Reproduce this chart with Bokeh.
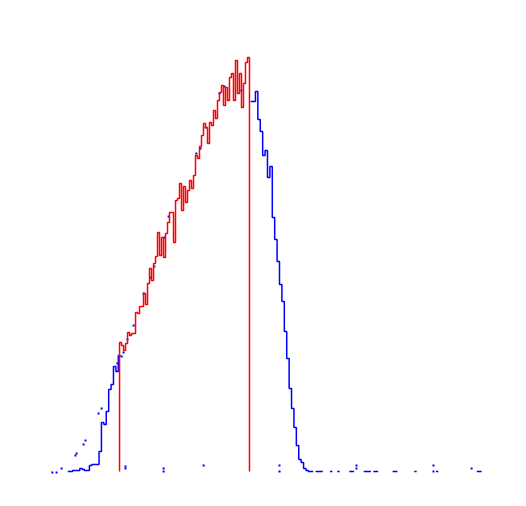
import numpy as np
from bokeh.plotting import figure
from bokeh.models import Range1d
from bokeh.embed import file_html
from bokeh.resources import INLINE

# ---- data (x in axis units, y in counts) ----
BIN_W = 1 / 16

blue_left_start = -1.5
blue_left = [0, 0, 1, 1, 1, 3, 2, 1, 1, 6, 7, 7, 7, 20, 49, 47, 60, 82, 87,
             105, 100, 116]

blue_right_start = 3.25
nan = float("nan")
blue_right = [370, 370, 380, 352, 340, 316, 321, 294, 305, 254, 232, 210, 187,
              170, 140, 113, 83, 63, 44, 26, 12, 9, 3, 1, 0, 0, nan, 0, 0, 0,
              nan, nan, nan, 0, nan, nan, 0, nan, nan, nan, nan, 0, 0, nan,
              nan, nan, nan, 0, 0, 0, nan, 0, 0, nan, nan, nan, nan, nan, nan,
              0, 0, nan, nan, nan, nan, nan, nan, nan, 0, nan, nan, nan, nan,
              nan, nan, nan, nan, 0, nan, nan, nan, nan, nan, nan, nan, nan,
              nan, nan, nan, nan, nan, nan, nan, nan, 0, 0]

red_start, red_end = -0.155, 3.22
red_vals = [129, 126, 121, 128, 139, 136, 138, 138, 159, 158, 165, 165, 178,
            167, 188, 203, 191, 208, 215, 239, 216, 234, 214, 238, 249, 259,
            259, 229, 271, 273, 288, 261, 285, 269, 281, 291, 283, 296, 316,
            313, 325, 336, 348, 344, 328, 349, 346, 361, 353, 371, 379, 386,
            366, 384, 371, 394, 398, 371, 411, 378, 398, 364, 388, 409, 414]

pts_x = [-1.90, -1.79, -1.66, -1.30, -1.27, -1.09, -1.04, -0.70, -0.62, -0.21,
         -0.10, -0.05, 0.05, 0.21, 0.47, 0.65, 0.75, 1.01, 1.12, 1.84, 1.95,
         2.08, 2.44, 2.57, 3.01,
         0, 0, 0.99, 0.99, 2.03, 4, 4, 6, 6, 8, 8, 8.99]
pts_y = [-1, -1, 3, 16, 18, 27, 31, 58, 63, 108, 115, 119, 132, 146, 178, 194,
         205, 234, 255, 318, 323, 344, 378, 385, 381,
         5, 3, 3, 0, 6, 6, 0, 6, 3, 6, 0, 3]


def step_path(start, vals):
    xs, ys = [], []
    for i, v in enumerate(vals):
        xs += [start + i * BIN_W, start + (i + 1) * BIN_W]
        ys += [v, v]
    return xs, ys


p = figure(width=510, height=490, output_backend="svg", toolbar_location=None,
           x_range=Range1d(-3.247, 10.0), y_range=Range1d(-19, 471),
           min_border=0)
p.axis.visible = False
p.grid.visible = False
p.outline_line_color = None

for start, vals in [(blue_left_start, blue_left), (blue_right_start, blue_right)]:
    xs, ys = step_path(start, vals)
    p.line(xs, ys, line_color="#0000ff", line_width=1.5)

p.scatter(pts_x, pts_y, marker="square", size=2, fill_color="#0000ff",
          line_color=None)

edges = np.linspace(red_start, red_end, len(red_vals) + 1)
rx = [edges[0]]
ry = [0]
for i, v in enumerate(red_vals):
    rx += [edges[i], edges[i + 1]]
    ry += [v, v]
rx.append(edges[-1])
ry.append(0)
p.line(rx, ry, line_color="#ff0000", line_width=1.5)

open("out.html", "w").write(file_html(p, INLINE))
